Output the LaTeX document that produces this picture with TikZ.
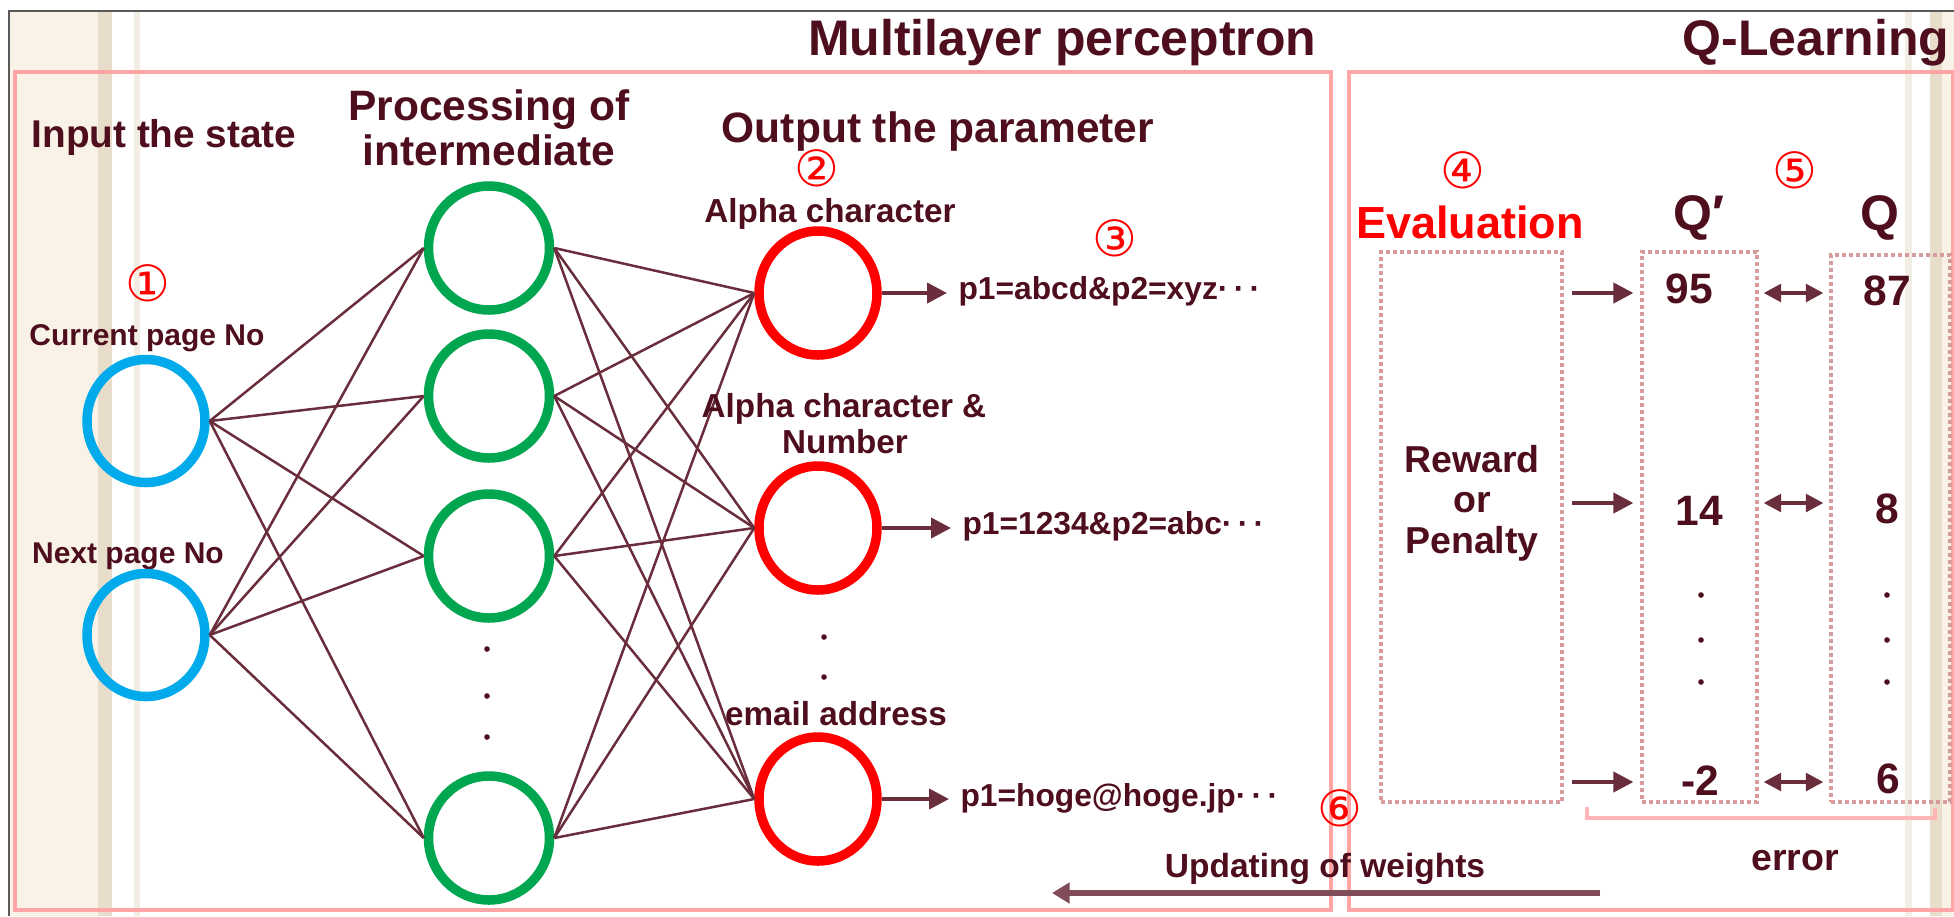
\documentclass[tikz,border=0pt]{standalone}
\usepackage{fontspec}
\setmainfont{Liberation Sans}
\newfontfamily\circfont{DejaVu Sans}
\usetikzlibrary{shapes.geometric,arrows.meta}
\newcommand\myfs[1]{\fontsize{#1}{#1}\selectfont}
\definecolor{txt}{RGB}{78,14,30}
\definecolor{ln}{RGB}{105,45,60}
\definecolor{pinkframe}{RGB}{255,165,165}
\definecolor{dotc}{RGB}{215,155,155}
\definecolor{beige}{RGB}{248,243,230}
\definecolor{beigedk}{RGB}{232,220,203}
\definecolor{beigelt}{RGB}{242,238,228}
\definecolor{cblue}{RGB}{0,170,235}
\definecolor{cgreen}{RGB}{0,166,80}
\definecolor{cred}{RGB}{255,0,0}
\begin{document}
\begin{tikzpicture}[x=0.4pt,y=-0.4pt,
  lbl/.style={text=txt, inner sep=0pt},
  circnum/.style={text=cred, inner sep=0pt, font=\circfont\myfs{20}},
  neuron/.style={ellipse, draw, line width=3.8pt, inner sep=0pt},
  inneuron/.style={neuron, draw=cblue, minimum width=47.2pt, minimum height=49.2pt},
  hidneuron/.style={neuron, draw=cgreen, minimum width=48.4pt, minimum height=49.6pt},
  outneuron/.style={neuron, draw=cred, minimum width=47.2pt, minimum height=49.6pt},
  conn/.style={draw=ln, line width=1pt},
  arrowln/.style={draw=ln, line width=1.6pt, -{Triangle[length=8pt,width=8pt]}},
  dblarrow/.style={draw=ln, line width=1.6pt, {Triangle[length=7pt,width=7pt]}-{Triangle[length=7pt,width=7pt]}},
  bigarrow/.style={draw=ln!85!white, line width=2.4pt, -{Triangle[length=7pt,width=8pt]}},
  frame/.style={draw=pinkframe, line width=1.6pt},
  dotbox/.style={draw=dotc, line width=1.3pt, dash pattern=on 1.6pt off 1.2pt, inner sep=0pt},
  dotmark/.style={fill=txt}
]
\useasboundingbox (0,0) rectangle (1954,916);
\fill[white] (0,0) rectangle (1954,916);
% background strips
\fill[beige] (9,11) rectangle (112,916);
\fill[beigedk] (98,11) rectangle (112,916);
\fill[beigelt] (134,11) rectangle (140,916);
\fill[beigelt] (1905,11) rectangle (1912,916);
\fill[beige] (1930,11) rectangle (1954,916);
\fill[beigedk] (1930,11) rectangle (1942,916);
\draw[gray!70!black, line width=0.8pt] (9,916) -- (9,11) -- (1954,11);
% frames
\draw[frame] (15,72) rectangle (1331,910);
\draw[frame] (1349,72) rectangle (1953,910);
% titles
\node[lbl, anchor=base east, font=\myfs{20}\bfseries] (tmlp) at (1317,55) {Multilayer perceptron};
\node[lbl, anchor=base east, font=\myfs{20}\bfseries] (tql) at (1950,55) {Q-Learning};
% layer headings
\node[lbl, anchor=base, font=\myfs{15.5}\bfseries] (hin) at (164,147) {Input the state};
\node[lbl, anchor=base, font=\myfs{17}\bfseries] (hpr1) at (489,120) {Processing of};
\node[lbl, anchor=base, font=\myfs{17}\bfseries] (hpr2) at (489,165) {intermediate};
\node[lbl, anchor=base, font=\myfs{17}\bfseries] (hout) at (938,142) {Output the parameter};
% circled numbers
\node[circnum] (n1) at (148,283) {①};
\node[circnum] (n2) at (817,168) {②};
\node[circnum] (n3) at (1115,238) {③};
\node[circnum] (n4) at (1463,170) {④};
\node[circnum] (n5) at (1795,170) {⑤};
\node[circnum] (n6) at (1340,808) {⑥};
% input labels
\node[lbl, anchor=base, font=\myfs{12}\bfseries] (lcur) at (147,345) {Current page No};
\node[lbl, anchor=base, font=\myfs{12}\bfseries] (lnext) at (128,563) {Next page No};
% neurons
\node[inneuron] (i1) at (146,421) {};
\node[inneuron] (i2) at (146,635) {};
\node[hidneuron] (h1) at (489,248) {};
\node[hidneuron] (h2) at (489,396) {};
\node[hidneuron] (h3) at (489,556) {};
\node[hidneuron] (h4) at (489,838) {};
\node[outneuron] (o1) at (818,293) {};
\node[outneuron] (o2) at (818,528) {};
\node[outneuron] (o3) at (818,799) {};
% connections
\foreach \a in {i1,i2}{\foreach \b in {h1,h2,h3,h4}{\draw[conn] (\a.east) -- (\b.west);}}
\foreach \a in {h1,h2,h3,h4}{\foreach \b in {o1,o2,o3}{\draw[conn] (\a.east) -- (\b.west);}}
% vertical dots
\foreach \yy in {649,696,737}{\fill[dotmark] (487,\yy) circle (2.8);}
\foreach \yy in {637,677}{\fill[dotmark] (824,\yy) circle (2.8);}
% output labels
\node[lbl, anchor=base, font=\myfs{13.3}\bfseries] (la1) at (830,222) {Alpha character};
\node[lbl, anchor=base, font=\myfs{13.3}\bfseries] (la2) at (844,417) {Alpha character \&};
\node[lbl, anchor=base, font=\myfs{13.3}\bfseries] (la3) at (845,453) {Number};
\node[lbl, anchor=base, font=\myfs{13.3}\bfseries] (la4) at (836,725) {email address};
% output strings
\node[lbl, anchor=mid west, font=\myfs{12.7}\bfseries] (p1) at (958,293) {p1=abcd\&p2=xyz·\,·\,·};
\node[lbl, anchor=mid west, font=\myfs{12.7}\bfseries] (p2) at (962,528) {p1=1234\&p2=abc·\,·\,·};
\node[lbl, anchor=mid west, font=\myfs{12.7}\bfseries] (p3) at (960,800) {p1=hoge@hoge.jp·\,·\,·};
\draw[arrowln, shorten >=4.4pt] (o1.east) -- (o1.east -| p1.west);
\draw[arrowln, shorten >=4.4pt] (o2.east) -- (o2.east -| p2.west);
\draw[arrowln, shorten >=4.4pt] (o3.east) -- (o3.east -| p3.west);
% Q-learning part
\node[text=cred, inner sep=0pt, anchor=base, font=\myfs{18}\bfseries] (eval) at (1470,238) {Evaluation};
\node[lbl, anchor=base, font=\myfs{20}\bfseries] (qph) at (1699,230) {Q′};
\node[lbl, anchor=base, font=\myfs{20}\bfseries] (qh) at (1880,230) {Q};
\node[dotbox, minimum width=72.4pt, minimum height=220pt] (ev) at (1471.5,527) {};
\node[dotbox, minimum width=46pt, minimum height=220pt] (qp) at (1699.5,527) {};
\node[dotbox, minimum width=47.6pt, minimum height=218.8pt] (qb) at (1890.5,528.5) {};
\node[lbl, anchor=base, font=\myfs{15}\bfseries] (rw1) at (1472,472) {Reward};
\node[lbl, anchor=base, font=\myfs{15}\bfseries] (rw2) at (1472,512) {or};
\node[lbl, anchor=base, font=\myfs{15}\bfseries] (rw3) at (1472,553) {Penalty};
\node[lbl, anchor=base, font=\myfs{17}\bfseries] (v1) at (1689,303) {95};
\node[lbl, anchor=base, font=\myfs{17}\bfseries] (v2) at (1699,525) {14};
\node[lbl, anchor=base, font=\myfs{17}\bfseries] (v3) at (1700,795) {-2};
\node[lbl, anchor=base, font=\myfs{17}\bfseries] (w1) at (1887,305) {87};
\node[lbl, anchor=base, font=\myfs{17}\bfseries] (w2) at (1887,523) {8};
\node[lbl, anchor=base, font=\myfs{17}\bfseries] (w3) at (1888,793) {6};
\foreach \yy in {595,640,682}{\fill[dotmark] (1701,\yy) circle (2.8); \fill[dotmark] (1887,\yy) circle (2.8);}
\coordinate (row1) at (1600,293);
\coordinate (row2) at (1600,503);
\coordinate (row3) at (1600,782);
\foreach \r in {row1,row2,row3}{
  \draw[arrowln, shorten <=3.2pt, shorten >=2.8pt] (ev.east |- \r) -- (qp.west |- \r);
  \draw[dblarrow, shorten <=2pt, shorten >=2.4pt] (qp.east |- \r) -- (qb.west |- \r);
}
% error bracket
\draw[draw=pinkframe!80!red!60!white, line width=1.3pt] (1587,807) -- (1587,818) -- (1935,818) -- (1935,808);
\node[lbl, anchor=base, font=\myfs{15}\bfseries] (err) at (1795,870) {error};
% updating of weights
\node[lbl, anchor=base, font=\myfs{13.4}\bfseries] (upd) at (1325,877) {Updating of weights};
\coordinate (ustart) at (1600,893);
\coordinate (uend) at (1052,893);
\draw[bigarrow] (ustart) -- (uend);
\end{tikzpicture}
\end{document}
